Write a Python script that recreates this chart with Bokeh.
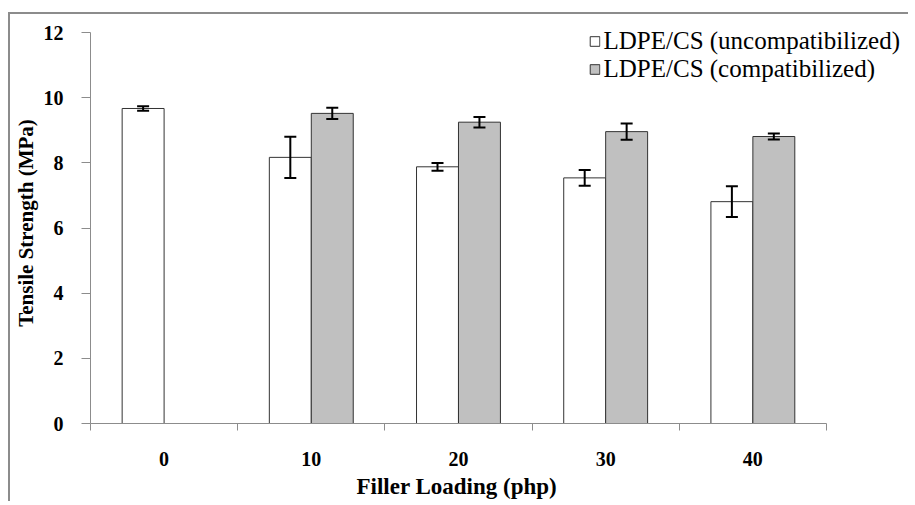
import numpy as np
from bokeh.plotting import figure
from bokeh.models import (ColumnDataSource, FixedTicker, Whisker, TeeHead, Legend, LegendItem,
                          Range1d, Title)
from bokeh.embed import file_html
from bokeh.resources import INLINE

# ---- data ----
loading = ["0", "10", "20", "30", "40"]
uncompat = [9.67, 8.17, 7.88, 7.54, 6.81]
uncompat_err = [0.07, 0.63, 0.12, 0.24, 0.47]
compat = [np.nan, 9.52, 9.25, 8.96, 8.81]
compat_err = [np.nan, 0.17, 0.16, 0.25, 0.09]
y_ticks = [0, 2, 4, 6, 8, 10, 12]

centers = np.arange(len(loading)) + 0.5
bw = 0.285
FONT = "'Liberation Serif', 'Times New Roman', serif"

src_u = ColumnDataSource(dict(
    x=centers - bw / 2, top=uncompat,
    lo=np.array(uncompat) - np.array(uncompat_err),
    hi=np.array(uncompat) + np.array(uncompat_err)))
mask = ~np.isnan(np.array(compat))
src_c = ColumnDataSource(dict(
    x=(centers + bw / 2)[mask], top=np.array(compat)[mask],
    lo=(np.array(compat) - np.array(compat_err))[mask],
    hi=(np.array(compat) + np.array(compat_err))[mask]))

p = figure(width=900, height=489, output_backend="svg", toolbar_location=None,
           x_range=Range1d(0, 5.537), y_range=Range1d(0, 12.31),
           min_border_left=80, min_border_bottom=80, min_border_top=8, min_border_right=5)
p.margin = (12, 0, 0, 8)
p.styles = {"border-top": "2px solid #8c8c8c", "border-left": "2px solid #8c8c8c"}
p.outline_line_color = None
p.grid.visible = False
p.background_fill_color = "white"

r_u = p.vbar(x="x", top="top", width=bw, bottom=0, source=src_u,
             fill_color="white", line_color="#333333", line_width=1)
r_c = p.vbar(x="x", top="top", width=bw, bottom=0, source=src_c,
             fill_color="#c0c0c0", line_color="#333333", line_width=1)

for s in (src_u, src_c):
    w = Whisker(base="x", lower="lo", upper="hi", source=s, line_color="black", line_width=2,
                level="overlay",
                upper_head=TeeHead(size=12, line_width=2, line_color="black"),
                lower_head=TeeHead(size=12, line_width=2, line_color="black"))
    p.add_layout(w)

# x axis: labels at category centres, tick marks at boundaries
xa = p.xaxis[0]
xa.ticker = FixedTicker(ticks=list(centers), minor_ticks=list(range(len(loading) + 1)))
xa.major_label_overrides = {float(c): lab for c, lab in zip(centers, loading)}
xa.bounds = (0, len(loading))
xa.major_tick_out = 0
xa.major_tick_in = 0
xa.minor_tick_out = 7
xa.minor_tick_in = 0
xa.axis_line_color = "#8c8c8c"
xa.minor_tick_line_color = "#8c8c8c"
xa.major_label_text_font = FONT
xa.major_label_text_font_style = "bold"
xa.major_label_text_font_size = "20px"
xa.major_label_text_color = "black"
xa.major_label_standoff = 21

# x-axis title, centred under the axis line (the frame extends right for the legend)
xtitle = Title(text="Filler Loading (php)", align="left", offset=266, standoff=7,
               text_font=FONT, text_font_style="bold", text_font_size="23px",
               text_color="black")
p.add_layout(xtitle, "below")

ya = p.yaxis[0]
ya.ticker = FixedTicker(ticks=y_ticks, minor_ticks=[])
ya.bounds = (0, 12)
ya.major_tick_out = 9
ya.major_tick_in = 0
ya.axis_line_color = "#8c8c8c"
ya.major_tick_line_color = "#8c8c8c"
ya.major_label_text_font = FONT
ya.major_label_text_font_style = "bold"
ya.major_label_text_font_size = "20px"
ya.major_label_text_color = "black"
ya.major_label_standoff = 18
ya.axis_label = "Tensile Strength (MPa)"
ya.axis_label_text_font = FONT
ya.axis_label_text_font_style = "bold"
ya.axis_label_text_font_size = "21px"
ya.axis_label_text_color = "black"
ya.axis_label_standoff = 3

legend = Legend(items=[LegendItem(label="LDPE/CS (uncompatibilized)", renderers=[r_u]),
                       LegendItem(label="LDPE/CS (compatibilized)", renderers=[r_c])],
                location="top_right", border_line_color=None, background_fill_alpha=0,
                label_text_font=FONT, label_text_font_size="25px", label_text_color="black",
                label_text_line_height=0.8,
                glyph_width=12, glyph_height=12, label_height=20, spacing=0,
                padding=3, margin=5, label_standoff=3)
p.add_layout(legend)

open("out.html", "w").write(file_html(p, INLINE))
